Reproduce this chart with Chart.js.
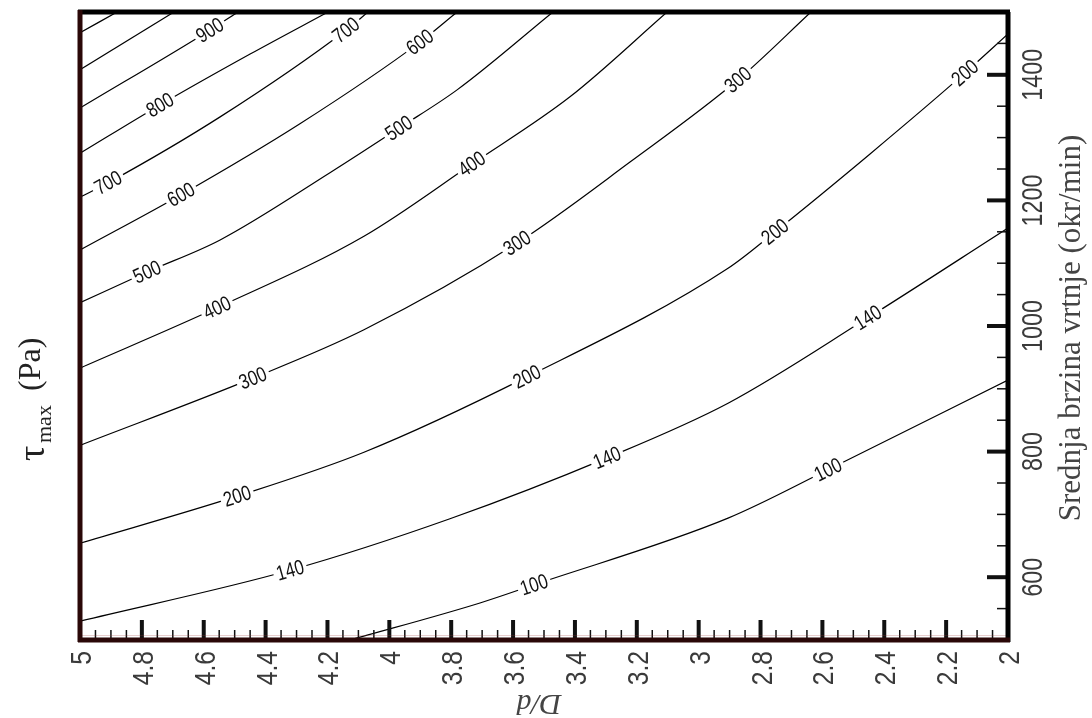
<!DOCTYPE html>
<html>
<head>
<meta charset="utf-8">
<script src="https://cdn.jsdelivr.net/npm/chart.js@4.4.1/dist/chart.umd.min.js"></script>
<style>
  html, body { margin: 0; padding: 0; background: #fff; overflow: hidden; }
  canvas { display: block; }
</style>
</head>
<body>
<canvas id="contour-chart" width="1092" height="718"></canvas>
<script>
// contour levels of tau_max (Pa)
var levels = [100, 140, 200, 300, 400, 500, 600, 700, 800, 900, 1000, 1100];

// D/d values along each contour
var contourD = [
	[4.127, 3.707, 3.532, 2.905, 2.582, 2.0],
	[5.0, 4.321, 3.804, 3.296, 2.905, 2.453, 2.0],
	[5.0, 4.492, 4.082, 3.555, 2.905, 2.753, 2.446, 2.139, 2.0],
	[5.0, 4.441, 4.082, 3.587, 3.222, 2.873, 2.637],
	[5.0, 4.557, 4.082, 3.733, 3.416, 3.102],
	[5.0, 4.783, 4.547, 4.192, 3.969, 3.781, 3.471],
	[5.0, 4.673, 4.289, 3.901, 3.781],
	[5.0, 4.909, 4.547, 4.140, 4.069],
	[5.0, 4.741, 4.450, 4.198],
	[5.0, 4.580, 4.489],
	[5.0, 4.696],
	[5.0, 4.880]
];

// mean rotation speed (okr/min) at the same points
var contourN = [
	[500, 559, 588, 694, 771, 914],
	[530, 611, 693, 790, 877, 1013, 1156],
	[654, 729, 799, 919, 1092, 1150, 1274, 1403, 1465],
	[810, 917, 994, 1132, 1261, 1392, 1500],
	[933, 1029, 1143, 1258, 1365, 1500],
	[1037, 1086, 1137, 1244, 1315, 1376, 1500],
	[1121, 1209, 1322, 1452, 1500],
	[1205, 1228, 1333, 1471, 1500],
	[1275, 1352, 1433, 1500],
	[1347, 1471, 1500],
	[1408, 1500],
	[1467, 1500]
];

// which point of each contour carries a level label
var labelAt = [
	[2, 4],
	[1, 3, 5],
	[1, 3, 5, 7],
	[1, 3, 5],
	[1, 3],
	[1, 4],
	[1, 3],
	[1, 3],
	[1],
	[1],
	[],
	[]
];

var xTicks = [5, 4.8, 4.6, 4.4, 4.2, 4, 3.8, 3.6, 3.4, 3.2, 3, 2.8, 2.6, 2.4, 2.2, 2];
var yTicks = [600, 800, 1000, 1200, 1400];

var sans = '"Liberation Sans", Arial, sans-serif';
var serif = '"Liberation Serif", "DejaVu Serif", serif';

var datasets = levels.map(function (lev, k) {
	return {
		label: String(lev),
		level: lev,
		labelAt: labelAt[k],
		data: contourD[k].map(function (d, i) { return { x: d, y: contourN[k][i] }; }),
		showLine: true,
		borderColor: '#000',
		borderWidth: 1.2,
		pointRadius: 0,
		fill: false,
		cubicInterpolationMode: 'monotone'
	};
});

// text squeezed along its direction, like a narrow face
function narrowText(ctx, text, x, y, squeeze) {
	ctx.save();
	ctx.translate(x, y);
	ctx.scale(squeeze, 1);
	ctx.fillText(text, 0, 0);
	ctx.restore();
}

// level labels written along the lines
var contourLabels = {
	id: 'contourLabels',
	afterDatasetsDraw: function (chart) {
		var ctx = chart.ctx;
		ctx.save();
		ctx.font = '21px ' + sans;
		ctx.textAlign = 'center';
		ctx.textBaseline = 'middle';
		chart.data.datasets.forEach(function (ds, k) {
			var pts = chart.getDatasetMeta(k).data;
			ds.labelAt.forEach(function (i) {
				var p = pts[i];
				var a;
				if (p.cp1x !== undefined && p.cp2x !== p.cp1x) {
					a = Math.atan2(p.cp2y - p.cp1y, p.cp2x - p.cp1x);
				} else {
					a = Math.atan2(pts[i + 1].y - pts[i - 1].y, pts[i + 1].x - pts[i - 1].x);
				}
				var text = String(ds.level);
				var w = ctx.measureText(text).width * 0.8;
				ctx.save();
				ctx.translate(p.x, p.y);
				ctx.rotate(a);
				ctx.fillStyle = '#fff';
				ctx.fillRect(-w / 2 - 3, -7, w + 6, 14);
				ctx.fillStyle = '#111';
				narrowText(ctx, text, 0, 1, 0.8);
				ctx.restore();
			});
		});
		ctx.restore();
	}
};

// frame, inward ticks, tick labels and titles
var frame = {
	id: 'frame',
	afterDraw: function (chart) {
		var ctx = chart.ctx;
		var a = chart.chartArea;
		var x = chart.scales.x;
		var y = chart.scales.y;
		ctx.save();

		// bottom ticks
		ctx.strokeStyle = '#111';
		for (var k = 0; k <= 60; k++) {
			var px = x.getPixelForValue(2 + k * 0.05);
			var major = k % 4 === 0;
			ctx.lineWidth = major ? 4 : 1.5;
			ctx.beginPath();
			ctx.moveTo(px, a.bottom);
			ctx.lineTo(px, a.bottom - (major ? 20 : 10));
			ctx.stroke();
		}
		// right ticks
		for (var j = 0; j <= 20; j++) {
			var v = 500 + j * 50;
			var py = y.getPixelForValue(v);
			var maj = yTicks.indexOf(v) >= 0;
			ctx.lineWidth = maj ? 4 : 1.5;
			ctx.beginPath();
			ctx.moveTo(a.right, py);
			ctx.lineTo(a.right - (maj ? 21 : 11), py);
			ctx.stroke();
		}

		// faint reddish line along the bottom axis
		ctx.strokeStyle = 'rgba(160, 60, 60, 0.25)';
		ctx.lineWidth = 1;
		ctx.beginPath();
		ctx.moveTo(a.left, a.bottom - 4.5);
		ctx.lineTo(a.right, a.bottom - 4.5);
		ctx.stroke();

		// frame
		ctx.lineWidth = 5;
		ctx.strokeStyle = '#000';
		ctx.beginPath();
		ctx.moveTo(a.left - 2, a.top);
		ctx.lineTo(a.right + 2, a.top);
		ctx.moveTo(a.right, a.top);
		ctx.lineTo(a.right, a.bottom + 2);
		ctx.stroke();
		ctx.strokeStyle = '#2a0808';
		ctx.beginPath();
		ctx.moveTo(a.left, a.top - 2);
		ctx.lineTo(a.left, a.bottom + 2);
		ctx.moveTo(a.left - 2, a.bottom);
		ctx.lineTo(a.right + 2, a.bottom);
		ctx.stroke();

		// x tick labels, rotated
		ctx.fillStyle = '#3a3a3a';
		ctx.font = '30px ' + sans;
		ctx.textAlign = 'right';
		ctx.textBaseline = 'alphabetic';
		xTicks.forEach(function (t) {
			ctx.save();
			ctx.translate(x.getPixelForValue(t), a.bottom + 11);
			ctx.rotate(-Math.PI / 2);
			narrowText(ctx, String(t), 0, 11, 0.82);
			ctx.restore();
		});
		// y tick labels on the right, rotated
		ctx.textAlign = 'center';
		yTicks.forEach(function (t) {
			ctx.save();
			ctx.translate(a.right + 34, y.getPixelForValue(t));
			ctx.rotate(-Math.PI / 2);
			narrowText(ctx, String(t), 0, 0, 0.78);
			ctx.restore();
		});

		// right axis title
		ctx.save();
		ctx.fillStyle = '#444';
		ctx.font = '31px ' + serif;
		ctx.translate(1080, (a.top + a.bottom) / 2 + 2);
		ctx.rotate(-Math.PI / 2);
		ctx.fillText('Srednja brzina vrtnje (okr/min)', 0, 0);
		ctx.restore();

		// x axis title, upside down
		ctx.save();
		ctx.fillStyle = '#444';
		ctx.font = 'italic 30px ' + serif;
		ctx.translate(539, 695);
		ctx.rotate(Math.PI);
		ctx.textBaseline = 'alphabetic';
		ctx.fillText('D/d', 0, 0);
		ctx.restore();

		// left title: tau_max (Pa)
		ctx.save();
		ctx.fillStyle = '#222';
		ctx.translate(44, 461);
		ctx.rotate(-Math.PI / 2);
		ctx.textAlign = 'left';
		ctx.font = '38px ' + serif;
		ctx.fillText('\u03C4', 0, 0);
		ctx.font = '22px ' + serif;
		ctx.fillText('max', 18, 7);
		ctx.font = '32px ' + serif;
		ctx.fillText('(Pa)', 70, -4);
		ctx.restore();

		ctx.restore();
	}
};

var ctx = document.getElementById('contour-chart');

new Chart(ctx, {
	type: 'scatter',
	data: { datasets: datasets },
	options: {
		responsive: false,
		animation: false,
		events: [],
		layout: { padding: { left: 80, right: 84, top: 12, bottom: 78 } },
		scales: {
			x: { type: 'linear', min: 2, max: 5, reverse: true, display: false },
			y: { type: 'linear', min: 500, max: 1500, display: false }
		},
		plugins: {
			legend: { display: false },
			tooltip: { enabled: false }
		}
	},
	plugins: [contourLabels, frame]
});
</script>
</body>
</html>
